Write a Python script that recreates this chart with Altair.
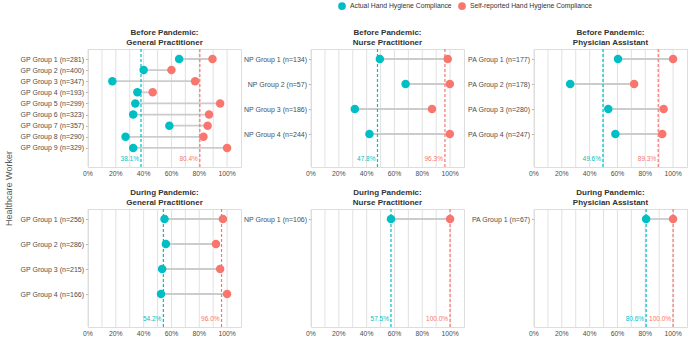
import altair as alt
import pandas as pd

ACT = "Actual Hand Hygiene Compliance"
SELF = "Self-reported Hand Hygiene Compliance"
TEAL = "#00BFC4"
RED = "#F8766D"
FONT = "Liberation Sans"

# ---------------- data ----------------
bgp_groups = ["GP Group 1 (n=281)", "GP Group 2 (n=400)", "GP Group 3 (n=347)",
              "GP Group 4 (n=193)", "GP Group 5 (n=299)", "GP Group 6 (n=323)",
              "GP Group 7 (n=357)", "GP Group 8 (n=290)", "GP Group 9 (n=329)"]
bgp_actual = [0.655, 0.40, 0.175, 0.355, 0.34, 0.325, 0.585, 0.27, 0.325]
bgp_self = [0.895, 0.60, 0.77, 0.465, 0.95, 0.87, 0.86, 0.83, 1.00]

bnp_groups = ["NP Group 1 (n=134)", "NP Group 2 (n=57)", "NP Group 3 (n=186)", "NP Group 4 (n=244)"]
bnp_actual = [0.495, 0.68, 0.315, 0.42]
bnp_self = [0.983, 0.998, 0.87, 0.998]

bpa_groups = ["PA Group 1 (n=177)", "PA Group 2 (n=178)", "PA Group 3 (n=280)", "PA Group 4 (n=247)"]
bpa_actual = [0.604, 0.26, 0.534, 0.585]
bpa_self = [1.00, 0.72, 0.932, 0.922]

dgp_groups = ["GP Group 1 (n=256)", "GP Group 2 (n=286)", "GP Group 3 (n=215)", "GP Group 4 (n=166)"]
dgp_actual = [0.55, 0.56, 0.533, 0.525]
dgp_self = [0.97, 0.92, 0.95, 1.00]

dnp_groups = ["NP Group 1 (n=106)"]
dnp_actual = [0.575]
dnp_self = [1.00]

dpa_groups = ["PA Group 1 (n=67)"]
dpa_actual = [0.806]
dpa_self = [1.00]

panel_titles = [
    ["Before Pandemic:", "General Practitioner"],
    ["Before Pandemic:", "Nurse Practitioner"],
    ["Before Pandemic:", "Physician Assistant"],
    ["During Pandemic:", "General Practitioner"],
    ["During Pandemic:", "Nurse Practitioner"],
    ["During Pandemic:", "Physician Assistant"],
]
mean_actual = [0.381, 0.478, 0.496, 0.542, 0.575, 0.806]
mean_self = [0.804, 0.963, 0.893, 0.960, 1.000, 1.000]

x_major = [0, 0.2, 0.4, 0.6, 0.8, 1.0]
x_major_labels = ["0%", "20%", "40%", "60%", "80%", "100%"]
x_minor = [0.1, 0.3, 0.5, 0.7, 0.9]

panels_data = [
    (bgp_groups, bgp_actual, bgp_self),
    (bnp_groups, bnp_actual, bnp_self),
    (bpa_groups, bpa_actual, bpa_self),
    (dgp_groups, dgp_actual, dgp_self),
    (dnp_groups, dnp_actual, dnp_self),
    (dpa_groups, dpa_actual, dpa_self),
]

W = 153
H = 118
MEAN_LEVEL = "__mean__"
GRID = "#dedede"


def make_panel(i):
    groups, act, slf = panels_data[i]
    seg = pd.DataFrame({"group": groups, "actual": act, "self": slf})
    pts = pd.DataFrame({
        "group": groups + groups,
        "value": act + slf,
        "measure": [ACT] * len(groups) + [SELF] * len(groups),
    })
    means = pd.DataFrame({
        "value": [mean_actual[i], mean_self[i]],
        "col": [TEAL, RED],
        "label": [f"{mean_actual[i]*100:.1f}%", f"{mean_self[i]*100:.1f}%"],
        "group": [MEAN_LEVEL, MEAN_LEVEL],
    })
    major = pd.DataFrame({"v": x_major, "lab": x_major_labels})
    minor = pd.DataFrame({"v": x_minor})

    domain = groups + [MEAN_LEVEL]
    yaxis_kwargs = dict(
        values=groups, domain=False, ticks=True, tickSize=2.5, tickColor="#9a9a9a",
        tickWidth=0.8, labelFontSize=7, labelColor="#4d4d4d", labelFont=FONT,
        labelPadding=2, grid=False, labelOverlap=False,
    )
    if i == 0:
        yaxis_kwargs.update(title="Healthcare Worker", titleX=-80, titleY=139,
                            titleAngle=270, titleAlign="center", titleBaseline="middle",
                            titleFontSize=9, titleFontWeight="normal", titleColor="#5a5a5a",
                            titleFont=FONT)
    else:
        yaxis_kwargs.update(title=None)

    yscale = alt.Scale(type="point", domain=domain, range=[10, 110], padding=0)
    yaxis = alt.Axis(**yaxis_kwargs)
    xscale = alt.Scale(domain=[0, 1.1], nice=False, zero=False)

    major_grid = alt.Chart(major).mark_rule(color=GRID, strokeWidth=0.9).encode(
        x=alt.X("v:Q", scale=xscale, axis=None),
    )
    minor_grid = alt.Chart(minor).mark_rule(color=GRID, strokeWidth=0.9).encode(
        x=alt.X("v:Q"),
    )
    xlabels = alt.Chart(major).mark_text(baseline="top", align="center", fontSize=6.8,
                                         font=FONT, color="#4d4d4d").encode(
        x=alt.X("v:Q"),
        y=alt.value(H + 4),
        text="lab:N",
    )
    segs = alt.Chart(seg).mark_rule(color="#cccccc", strokeWidth=1.8).encode(
        x=alt.X("actual:Q"),
        x2="self:Q",
        y=alt.Y("group:N", scale=yscale, axis=yaxis),
    )
    rules = alt.Chart(means).mark_rule(strokeDash=[3, 2], strokeWidth=1.2).encode(
        x=alt.X("value:Q"),
        color=alt.Color("col:N", scale=None),
    )
    dots = alt.Chart(pts).mark_circle(size=72, opacity=1).encode(
        x=alt.X("value:Q"),
        y=alt.Y("group:N"),
        color=alt.Color("measure:N",
                        scale=alt.Scale(domain=[ACT, SELF], range=[TEAL, RED]),
                        legend=alt.Legend(title=None, orient="none", direction="horizontal",
                                          legendX=250, legendY=-47, labelFontSize=6.8,
                                          labelColor="#333333", labelFont=FONT,
                                          labelLimit=300, symbolSize=60,
                                          symbolType="circle", symbolStrokeWidth=0,
                                          columnPadding=6, labelOffset=4)),
    )
    texts = alt.Chart(means).mark_text(align="right", baseline="middle", dx=-2,
                                       fontSize=6.5, font=FONT).encode(
        x=alt.X("value:Q"),
        y=alt.Y("group:N"),
        text="label:N",
        color=alt.Color("col:N", scale=None),
    )
    return alt.layer(major_grid, minor_grid, xlabels, segs, rules, dots, texts).properties(
        width=W, height=H,
        title=alt.TitleParams(text=panel_titles[i], fontSize=8, fontWeight="bold",
                              color="#333333", font=FONT, anchor="middle", offset=1,
                              lineHeight=10),
    )


chart = alt.concat(*[make_panel(i) for i in range(6)], columns=3,
                   spacing={"row": 42, "column": 70}, bounds="flush").resolve_scale(
    color="shared"
).configure_view(stroke=None).configure(
    padding={"left": 3, "right": 0, "top": 2, "bottom": 2})

chart.save("out.html", embed_options={"renderer": "svg", "actions": False})
